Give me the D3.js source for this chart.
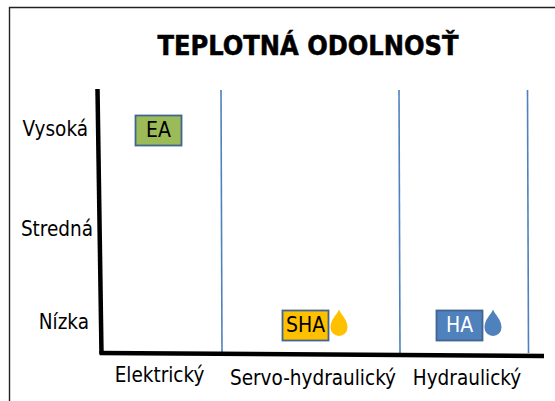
<!DOCTYPE html>
<html><head><meta charset="utf-8">
<script src="https://cdn.jsdelivr.net/npm/d3@7"></script>
<style>html,body{margin:0;padding:0;background:#fff}svg{display:block}text{font-family:"DejaVu Sans Condensed","DejaVu Sans",sans-serif;fill:#000}</style>
</head><body><svg id="c" width="555" height="401"></svg>
<script>
const title = "TEPLOTNÁ ODOLNOSŤ";
const categories = ["Elektrický","Servo-hydraulický","Hydraulický"];
const levels = ["Vysoká","Stredná","Nízka"];
const techNames = ["EA","SHA","HA"];
const techCategories = ["Elektrický","Servo-hydraulický","Hydraulický"];
const techLevels = ["Vysoká","Nízka","Nízka"];
const techFills = ["#9bbb59","#ffc000","#4f81bd"];
const techText = ["#000","#000","#fff"];
const techDrop = [false,true,true];
const dropFills = [null,"#ffc000","#4f81bd"];

const svg = d3.select("#c");
const x = d3.scaleOrdinal().domain(categories).range([158.5,305.5,459.5]);
const xLabel = d3.scaleOrdinal().domain(categories).range([159.5,313,467]);
const xLabelY = d3.scaleOrdinal().domain(categories).range([376,379,379]);
const sep = d3.scaleOrdinal().domain(categories).range([221.5,399.5,528]);
const y = d3.scalePoint().domain(levels).range([130.5,325.5]);
const yLabel = d3.scaleOrdinal().domain(levels).range([130,230,323]);

// frame
svg.append("path").attr("d","M9.5,401V7.5H555").attr("fill","none").attr("stroke","#222").attr("stroke-width",1.4);

svg.append("text").attr("x",308).attr("y",47).attr("text-anchor","middle")
  .attr("dominant-baseline","middle").attr("font-size",27).attr("font-weight",700)
  .attr("stroke","#000").attr("stroke-width",0.5)
  .attr("textLength",301).attr("lengthAdjust","spacingAndGlyphs").text(title);

// separators
svg.selectAll("line.sep").data(categories).join("line").attr("class","sep")
  .attr("x1",d=>sep(d)-0.5).attr("x2",d=>sep(d)+0.5).attr("y1",90).attr("y2",353)
  .attr("stroke","#4f81bd").attr("stroke-width",1.6);

// axes
svg.append("line").attr("x1",97.5).attr("y1",89).attr("x2",101.5).attr("y2",354).attr("stroke","#000").attr("stroke-width",4.5);
svg.append("line").attr("x1",99.5).attr("y1",353).attr("x2",544).attr("y2",356).attr("stroke","#000").attr("stroke-width",4.5);

// labels
svg.selectAll("text.yl").data(levels).join("text").attr("class","yl")
  .attr("x",d=>d==="Nízka"?89:d==="Vysoká"?88:93).attr("y",d=>yLabel(d)).attr("text-anchor","end")
  .attr("dominant-baseline","middle").attr("font-size",20.5).text(d=>d);
svg.selectAll("text.xl").data(categories).join("text").attr("class","xl")
  .attr("x",d=>xLabel(d)).attr("y",d=>xLabelY(d)).attr("text-anchor","middle")
  .attr("dominant-baseline","middle").attr("font-size",20.5).text(d=>d);

// tech boxes
const bw=46, bh=30;
const idx = d3.range(techNames.length);
svg.selectAll("rect.b").data(idx).join("rect").attr("class","b")
  .attr("x",i=>x(techCategories[i])-bw/2).attr("y",i=>y(techLevels[i])-bh/2)
  .attr("width",bw).attr("height",bh).attr("fill",i=>techFills[i])
  .attr("stroke","#41658f").attr("stroke-width",1.8);
svg.selectAll("text.b").data(idx).join("text").attr("class","b")
  .attr("x",i=>x(techCategories[i])).attr("y",i=>y(techLevels[i])+0.5)
  .attr("text-anchor","middle").attr("dominant-baseline","middle")
  .attr("font-size",21).style("fill",i=>techText[i]).text(i=>techNames[i]);

// droplets
const dropPath = "M0,-13.5C2,-8 8.5,-4 8.5,4.5A8.5,8.5 0 0 1 -8.5,4.5C-8.5,-4 -2,-8 0,-13.5Z";
svg.selectAll("path.d").data(idx.filter(i=>techDrop[i])).join("path").attr("class","d")
  .attr("transform",i=>`translate(${x(techCategories[i])+33.5},${y(techLevels[i])-2.5})`)
  .attr("d",dropPath).attr("fill",i=>dropFills[i]);
</script></body></html>
